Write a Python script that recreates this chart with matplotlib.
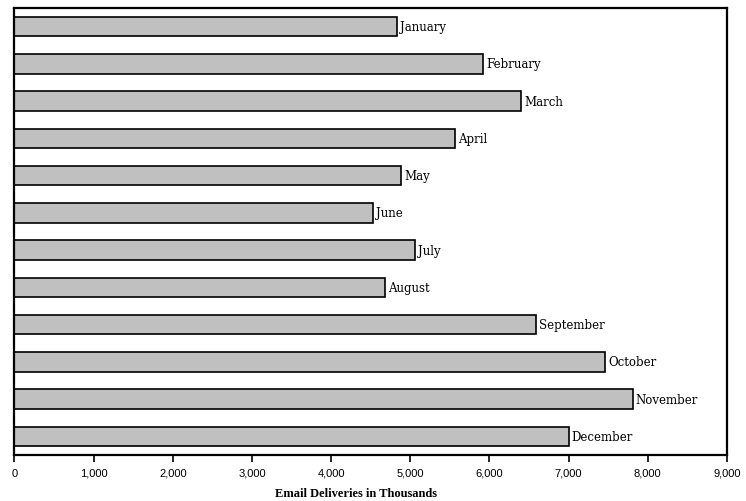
import matplotlib
matplotlib.use("Agg")
import matplotlib.pyplot as plt
from matplotlib.ticker import FuncFormatter

months = ["January", "February", "March", "April", "May", "June",
          "July", "August", "September", "October", "November", "December"]
deliveries = [4830, 5920, 6400, 5570, 4880, 4530,
              5060, 4680, 6590, 7460, 7810, 7000]
x_ticks = list(range(0, 9001, 1000))

fig = plt.figure(figsize=(7.46, 5.02), dpi=100)
ax = fig.add_axes([0.0194, 0.0916, 0.955, 0.8904])

pos = list(range(len(months)))
ax.barh(pos, deliveries, height=0.52, color="#c0c0c0",
        edgecolor="black", linewidth=1.2)

for p, v, m in zip(pos, deliveries, months):
    ax.text(v + 40, p, m, va="center", ha="left",
            fontsize=8.5, family="DejaVu Serif")

ax.set_ylim(len(months) - 0.5, -0.5)
ax.set_xlim(0, 9000)
ax.set_xticks(x_ticks)
ax.xaxis.set_major_formatter(FuncFormatter(lambda x, _: f"{int(x):,}"))
ax.set_yticks([])
for lbl in ax.get_xticklabels():
    lbl.set_family("Liberation Sans")
    lbl.set_fontsize(8)
ax.tick_params(axis="x", direction="out", length=5, width=1.2, pad=4)
for s in ax.spines.values():
    s.set_linewidth(1.6)

ax.set_xlabel("Email Deliveries in Thousands", fontsize=9,
              fontweight="bold", family="Liberation Serif")
ax.xaxis.set_label_coords(0.479, -0.071)

fig.savefig("out.png", dpi=100)
